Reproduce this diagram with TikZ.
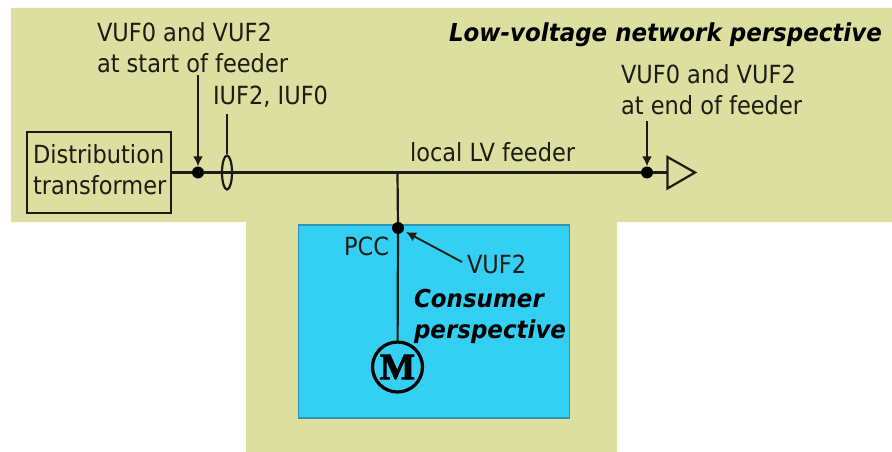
\documentclass[tikz,border=0pt]{standalone}
\usepackage{fontspec}
\setmainfont{DejaVu Sans}[FakeStretch=0.9]
\newfontfamily\motorfont{Liberation Serif}[FakeBold=2.5]
\newfontfamily\headfont{DejaVu Sans}[FakeStretch=0.93]
\usetikzlibrary{arrows.meta,shapes.geometric}
\definecolor{lvgreen}{HTML}{DDDFA0}
\definecolor{consblue}{HTML}{33D0F4}
\definecolor{consedge}{HTML}{2E93B5}
\definecolor{ink}{HTML}{1C1C14}
\tikzset{
 x=1pt,y=-1pt,
 txt/.style={inner sep=0pt,outer sep=0pt,align=left,text=ink,font=\fontsize{25}{31}\selectfont,anchor=north west},
 head/.style={inner sep=0pt,outer sep=0pt,align=left,text=black,font=\headfont\fontsize{24.7}{31}\selectfont\bfseries\itshape,anchor=north west},
 wire/.style={draw=ink,line width=2.2pt},
 probe/.style={draw=ink,line width=1.8pt,-{Latex[length=10pt,width=10pt]}},
 bus/.style={circle,fill=black,draw=none,minimum size=12pt,inner sep=0pt},
}
\begin{document}
\begin{tikzpicture}
\useasboundingbox (0,0) rectangle (892,452);
\fill[white] (0,0) rectangle (892,452);
\fill[lvgreen] (11,8) -- (892,8) -- (892,222) -- (617,222) -- (617,452) -- (246,452) -- (246,222) -- (11,222) -- cycle;
\node[draw=consedge,line width=1.6pt,fill=consblue,minimum width=271pt,minimum height=193pt,inner sep=0pt,anchor=north west] (cons) at (297.5,224) {};
% nodes
\node[draw=ink,line width=2.2pt,minimum width=144pt,minimum height=81pt,inner sep=0pt,anchor=north west] (tr) at (25.5,131) {};
\node[txt] (trtxt) at (33,145) {Distribution\\transformer};
\node[bus] (d1) at (198,172.5) {};
\node[bus] (d2) at (647,172.5) {};
\node[bus] (d3) at (398,228) {};
\coordinate (tee) at (397.5,172.5);
\coordinate (triA) at (667.5,157);
\coordinate (triB) at (667.5,188.5);
\coordinate (triC) at (695,172.5);
\coordinate (triM) at (667.5,172.5);
\node[draw=black,line width=3.2pt,circle,minimum size=50pt,inner sep=0pt,text=black,font=\motorfont\fontsize{37}{37}\selectfont\bfseries] (motor) at (397.5,367) {M};
\node[draw=ink,line width=2.2pt,ellipse,minimum width=10pt,minimum height=34pt,inner sep=0pt] (ct) at (227,172.5) {};
% labels
\node[txt] (l1) at (97,22.5) {VUF0 and VUF2\\at start of feeder};
\node[txt] (l2) at (213,86) {IUF2, IUF0};
\node[txt] (l3) at (621,65) {VUF0 and VUF2\\at end of feeder};
\node[txt] (l4) at (410,143) {local LV feeder};
\node[txt] (l5) at (344,237) {PCC};
\node[txt] (l6) at (467,255) {VUF2};
\node[head] (h1) at (449,23) {Low-voltage network perspective};
\node[head] (h2) at (414,289) {Consumer\\perspective};
\coordinate (p1) at (198,75);
\coordinate (p2) at (227,114);
\coordinate (p3) at (647,121);
\coordinate (p4) at (462,262);
\coordinate (p4e) at (406,232);
% connectors
\draw[wire] (tr.east |- d1) -- (d1);
\draw[wire] (d1) -- (d2);
\draw[wire] (d2) -- (triM);
\draw[wire,line join=miter] (triA) -- (triC) -- (triB) -- cycle;
\draw[wire] (tee) -- (d3);
\draw[wire] (d3) -- (motor);
\draw[wire] (p2) -- (ct.north);
\draw[probe] (p1) -- (d1);
\draw[probe] (p3) -- (d2);
\draw[probe] (p4) -- (p4e);
\end{tikzpicture}
\end{document}
